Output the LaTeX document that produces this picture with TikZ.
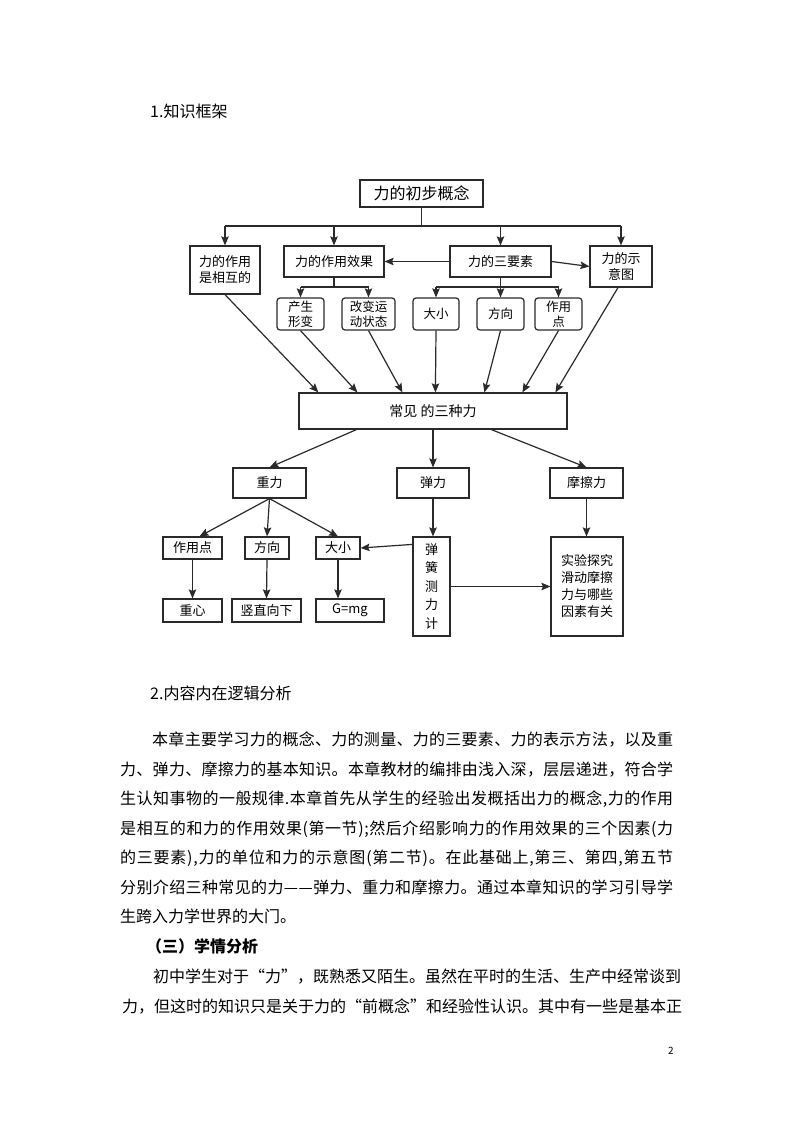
\documentclass[tikz,border=0pt]{standalone}
\usepackage{fontspec}
\setmainfont{Noto Sans CJK SC}
\usetikzlibrary{arrows.meta}
\definecolor{lc}{HTML}{2A2A2A}
\ExplSyntaxOn
\NewDocumentCommand\jl{mm}{\hbox to #1{\tl_map_inline:nn{#2}{##1\hskip 0pt plus 1fil}\unskip}}
\ExplSyntaxOff
\begin{document}
\begin{tikzpicture}[x=1pt,y=-1pt,
  box/.style={draw=lc, line width=1.2pt, inner sep=0pt, align=center, font=\fontsize{13}{16}\selectfont},
  rbox/.style={box, rounded corners=3pt, font=\fontsize{12.5}{15}\selectfont},
  arr/.style={draw=lc, line width=1.2pt, -{Stealth[length=9pt,width=7.5pt,inset=1.5pt]}},
  ln/.style={draw=lc, line width=1.2pt},
  body/.style={anchor=base west, inner sep=0pt, font=\fontsize{16}{16}\selectfont}]
\useasboundingbox (0,0) rectangle (793,1123);
\fill[white] (0,0) rectangle (793,1123);

% headings and body text
\node[body] (h1) at (150,118) {1.知识框架};
\node[body] (h2) at (150,699) {2.内容内在逻辑分析};
\node[body] (t1) at (152,745) {\jl{521pt}{本章主要学习力的概念、力的测量、力的三要素、力的表示方法，以及重}};
\node[body] (t2) at (120,775) {\jl{553pt}{力、弹力、摩擦力的基本知识。本章教材的编排由浅入深，层层递进，符合学}};
\node[body] (t3) at (120,804.5) {\jl{553pt}{生认知事物的一般规律.本章首先从学生的经验出发概括出力的概念,力的作用}};
\node[body] (t4) at (120,834) {\jl{553pt}{是相互的和力的作用效果(第一节);然后介绍影响力的作用效果的三个因素(力}};
\node[body] (t5) at (120,863.5) {\jl{553pt}{的三要素),力的单位和力的示意图(第二节)。在此基础上,第三、第四,第五节}};
\node[body] (t6) at (120,893) {\jl{553pt}{分别介绍三种常见的力——弹力、重力和摩擦力。通过本章知识的学习引导学}};
\node[body] (t7) at (120,922.5) {生跨入力学世界的大门。};
\node[body, font=\fontsize{16}{16}\selectfont\bfseries] (h3) at (146,952) {（三）学情分析};
\node[body] (t8) at (153,982) {\jl{507pt}{初中学生对于“力”，既熟悉又陌生。虽然在平时的生活、生产中经常谈到}};
\node[body] (t9) at (122,1012) {\jl{540pt}{力，但这时的知识只是关于力的“前概念”和经验性认识。其中有一些是基本正}};
\node[body, font=\fontsize{10}{10}\selectfont] (pg) at (668,1054) {2};

% diagram boxes
\node[box, minimum width=123pt, minimum height=27pt, font=\fontsize{16}{18}\selectfont] (top) at (421.5,193.5) {力的初步概念};
\node[box, minimum width=70pt, minimum height=48pt] (A) at (225,270) {力的作用\\是相互的};
\node[box, minimum width=100pt, minimum height=31pt] (B) at (334,261.5) {力的作用效果};
\node[box, minimum width=101pt, minimum height=31pt] (C) at (500.5,261.5) {力的三要素};
\node[box, minimum width=62pt, minimum height=41pt] (D) at (621,266.5) {力的示\\意图};
\node[rbox, minimum width=47pt, minimum height=32pt] (B1) at (300.5,314) {产生\\形变};
\node[rbox, minimum width=53pt, minimum height=32pt] (B2) at (368.5,314) {改变运\\动状态};
\node[rbox, minimum width=46pt, minimum height=32pt] (C1) at (436,314) {大小};
\node[rbox, minimum width=47pt, minimum height=32pt] (C2) at (500.5,314) {方向};
\node[rbox, minimum width=47pt, minimum height=32pt] (C3) at (558.5,314) {作用\\点};
\node[box, minimum width=268pt, minimum height=36pt, font=\fontsize{14}{16}\selectfont] (M) at (433,411) {常见 的三种力};
\node[box, minimum width=73pt, minimum height=30pt] (G) at (269.5,483) {重力};
\node[box, minimum width=72pt, minimum height=30pt] (E) at (433,483) {弹力};
\node[box, minimum width=73pt, minimum height=30pt] (F) at (586.5,483) {摩擦力};
\node[box, minimum width=59pt, minimum height=22pt] (G1) at (192.5,548) {作用点};
\node[box, minimum width=44pt, minimum height=22pt] (G2) at (267,548) {方向};
\node[box, minimum width=44pt, minimum height=22pt] (G3) at (338,548) {大小};
\node[box, minimum width=59pt, minimum height=23pt] (G4) at (192.5,610.5) {重心};
\node[box, minimum width=69pt, minimum height=23pt] (G5) at (266.5,610.5) {竖直向下};
\node[box, minimum width=68pt, minimum height=23pt] (G6) at (350,610.5) {G=mg};
\node[box, minimum width=37pt, minimum height=99pt, font=\fontsize{13}{18.5}\selectfont] (S) at (431.5,586.5) {弹\\簧\\测\\力\\计};
\node[box, minimum width=72pt, minimum height=99pt, font=\fontsize{13}{17}\selectfont] (X) at (587,586.5) {实验探究\\滑动摩擦\\力与哪些\\因素有关};

% top bus
\coordinate (bus) at (421.5,226);
\draw[ln] (top.south) -- (bus);
\draw[ln] (A.north |- bus) -- (D.north |- bus);
\draw[arr] (A.north |- bus) -- (A.north);
\draw[arr] (B.north |- bus) -- (B.north);
\draw[arr] (C.north |- bus) -- (C.north);
\draw[arr] (D.north |- bus) -- (D.north);
% sideways
\draw[arr] (C.west) -- (B.east);
\draw[arr] (C.east) -- (D.west);
% sub buses
\coordinate (bb) at (334,287);
\draw[ln] (B.south) -- (bb);
\draw[ln] (B1.north |- bb) -- (B2.north |- bb);
\draw[arr] (B1.north |- bb) -- (B1.north);
\draw[arr] (B2.north |- bb) -- (B2.north);
\coordinate (cb) at (500.5,287);
\draw[ln] (C.south) -- (cb);
\draw[ln] (C1.north |- cb) -- (C3.north |- cb);
\draw[arr] (C1.north |- cb) -- (C1.north);
\draw[arr] (C2.north |- cb) -- (C2.north);
\draw[arr] (C3.north |- cb) -- (C3.north);
% into M
\draw[arr] (A.south) -- ([xshift=20pt]M.north west);
\draw[arr] (B1.south) -- ([xshift=59pt]M.north west);
\draw[arr] (B2.south) -- ([xshift=104pt]M.north west);
\draw[arr] (C1.south) -- ([xshift=137pt]M.north west);
\draw[arr] (C2.south) -- ([xshift=186pt]M.north west);
\draw[arr] (C3.south) -- ([xshift=224pt]M.north west);
\draw[arr] ([xshift=-3pt]D.south) -- ([xshift=257pt]M.north west);
% out of M
\draw[arr] ([xshift=58pt]M.south west) -- (G.north);
\draw[arr] (M.south) -- (E.north);
\draw[arr] ([xshift=193pt]M.south west) -- (F.north);
% gravity
\draw[arr] (G.south) -- ([xshift=7pt]G1.north);
\draw[arr] (G.south) -- (G2.north);
\draw[arr] (G.south) -- (G3.north);
\draw[arr] (G1.south) -- (G4.north);
\draw[arr] (G2.south) -- (G5.north);
\draw[arr] (G3.south) -- (G3.south |- G6.north);
% spring and friction
\draw[arr] (E.south) -- (E.south |- S.north);
\draw[arr] ([yshift=-8pt]S.north west) -- (G3.east);
\draw[arr] (S.east) -- (X.west);
\draw[arr] (F.south) -- (F.south |- X.north);
\end{tikzpicture}
\end{document}
